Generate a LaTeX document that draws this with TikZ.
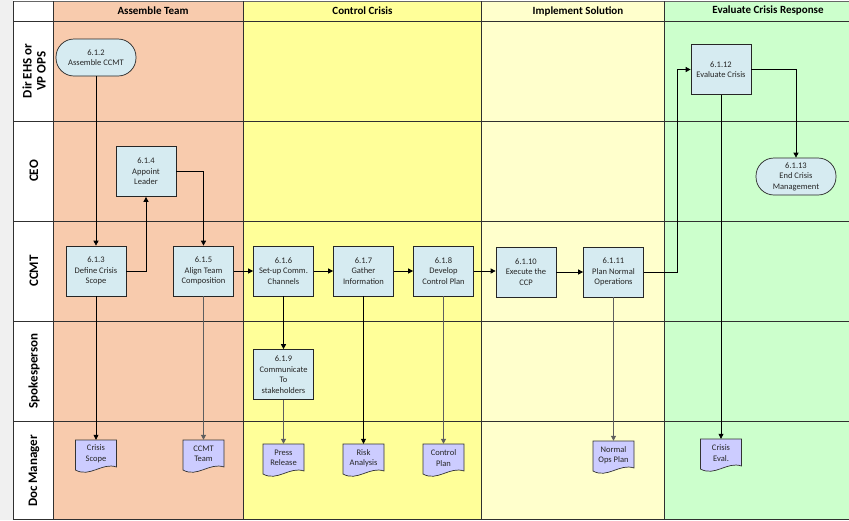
\documentclass[tikz,border=0pt]{standalone}
\usepackage{fontspec}
\setmainfont{Carlito}
\usetikzlibrary{arrows.meta}
\definecolor{peach}{HTML}{F8CBAD}
\definecolor{yell}{HTML}{FFFF99}
\definecolor{lyell}{HTML}{FFFFCC}
\definecolor{lgreen}{HTML}{CCFFCC}
\definecolor{procfill}{HTML}{D6EBF1}
\definecolor{docfill}{HTML}{CCCCFF}
\definecolor{margin}{HTML}{F0F0F0}
\definecolor{gridc}{HTML}{303030}
\definecolor{greyline}{HTML}{5E5E5E}
\newcommand\docnode[4]{%
  \filldraw[docline] (#2-20.5,#3) -- (#2+20.5,#3) -- (#2+20.5,#3+27)
    .. controls (#2+6,#3+22) and (#2-6,#3+38) .. (#2-20.5,#3+30) -- cycle;
  \node[doctext] (#1) at (#2,#3+14) {#4};}
\begin{document}
\begin{tikzpicture}[x=1pt,y=-1pt,
  proc/.style={draw=black!85, fill=procfill, line width=0.7pt, minimum width=60pt,
    minimum height=50pt, align=center, inner sep=1pt,
    font=\fontsize{8.5}{10.5}\selectfont, text=black!85},
  term/.style={proc, rounded corners=18pt, minimum width=80pt, minimum height=37pt},
  docline/.style={draw=black!80, fill=docfill, line width=0.7pt},
  doctext/.style={minimum width=41pt, minimum height=28pt, inner sep=0pt, align=center,
    font=\fontsize{8.5}{10.5}\selectfont, text=black!85},
  flow/.style={line width=0.7pt, draw=black, -{Triangle[length=5pt,width=5pt]}},
  gflow/.style={flow, draw=greyline, line width=1pt},
  grid/.style={draw=gridc, line width=0.8pt},
  lane/.style={rotate=90, font=\fontsize{13}{14}\selectfont\bfseries, align=center},
  head/.style={font=\fontsize{11}{12}\selectfont\bfseries}
]
\useasboundingbox (0,0) rectangle (849,520);
% backgrounds
\fill[margin] (0,0) rectangle (13,520);
\fill[white] (13,1) rectangle (53,519);
\fill[peach] (53,1) rectangle (243,519);
\fill[yell] (243,1) rectangle (481,519);
\fill[lyell] (481,1) rectangle (664,519);
\fill[lgreen] (664,1) rectangle (849,519);
% grid
\draw[draw=black!60, line width=0.6pt] (13,1) -- (849,1);
\foreach \yy in {21,121,221,321,421} \draw[grid] (13,\yy) -- (849,\yy);
\draw[grid] (13,519) -- (849,519);
\foreach \xx in {13,53,243,481,664} \draw[grid] (\xx,1) -- (\xx,519);
% headers
\node[head] (hA) at (153,11) {Assemble Team};
\node[head] (hB) at (362.5,11) {Control Crisis};
\node[head] (hC) at (578,11) {Implement Solution};
\node[head] (hD) at (768,11) {Evaluate Crisis Response};
% lane labels
\node[lane] (l1) at (34,71) {Dir EHS or\\VP OPS};
\node[lane] (l2) at (34,171) {CEO};
\node[lane] (l3) at (34,271) {CCMT};
\node[lane] (l4) at (34,371) {Spokesperson};
\node[lane] (l5) at (34,471) {Doc Manager};
% process nodes
\node[term] (n612) at (96,57.5) {6.1.2\\Assemble CCMT};
\node[proc] (n614) at (146,171.5) {6.1.4\\Appoint\\Leader};
\node[proc] (n613) at (96,271) {6.1.3\\Define Crisis\\Scope};
\node[proc] (n615) at (203.5,271) {6.1.5\\Align Team\\Composition};
\node[proc] (n616) at (283.5,271) {6.1.6\\Set-up Comm.\\Channels};
\node[proc] (n617) at (363.5,271) {6.1.7\\Gather\\Information};
\node[proc] (n618) at (443.5,271) {6.1.8\\Develop\\Control Plan};
\node[proc] (n6110) at (526,272) {6.1.10\\Execute the\\CCP};
\node[proc] (n6111) at (613.5,272) {6.1.11\\Plan Normal\\Operations};
\node[proc] (n6112) at (721,69.5) {6.1.12\\Evaluate Crisis};
\node[term] (n6113) at (796,176.5) {6.1.13\\End Crisis\\Management};
\node[proc] (n619) at (283.5,374.5) {6.1.9\\Communicate\\To\\stakeholders};
% documents
\docnode{dScope}{96}{440}{Crisis\\Scope}
\docnode{dTeam}{203.5}{440}{CCMT\\Team}
\docnode{dPress}{283.5}{444}{Press\\Release}
\docnode{dRisk}{363.5}{444}{Risk\\Analysis}
\docnode{dCtrl}{443.5}{444}{Control\\Plan}
\docnode{dOps}{613.5}{441}{Normal\\Ops Plan}
\docnode{dEval}{721}{439}{Crisis\\Eval.}
% connectors
\draw[flow] (n612) -- (n613);
\draw[flow] (n613.east) -| (n614.south);
\draw[flow] (n614.east) -| (n615.north);
\draw[flow] (n615) -- (n616);
\draw[flow] (n616) -- (n617);
\draw[flow] (n617) -- (n618);
\draw[flow] (n618.east) -- (n6110.west |- n618.east);
\draw[flow] (n6110) -- (n6111);
\coordinate (turn) at (677,272);
\draw[flow] (n6111.east) -- (turn) |- (n6112.west);
\draw[flow] (n6112.east) -| (n6113.north);
\draw[flow] (n6112) -- (dEval);
\draw[flow] (n613) -- (dScope);
\draw[gflow] (n615) -- (dTeam);
\draw[flow] (n616) -- (n619);
\draw[gflow] (n619) -- (dPress);
\draw[flow] (n617) -- (dRisk);
\draw[gflow] (n618) -- (dCtrl);
\draw[gflow] (n6111) -- (dOps);
\end{tikzpicture}
\end{document}
